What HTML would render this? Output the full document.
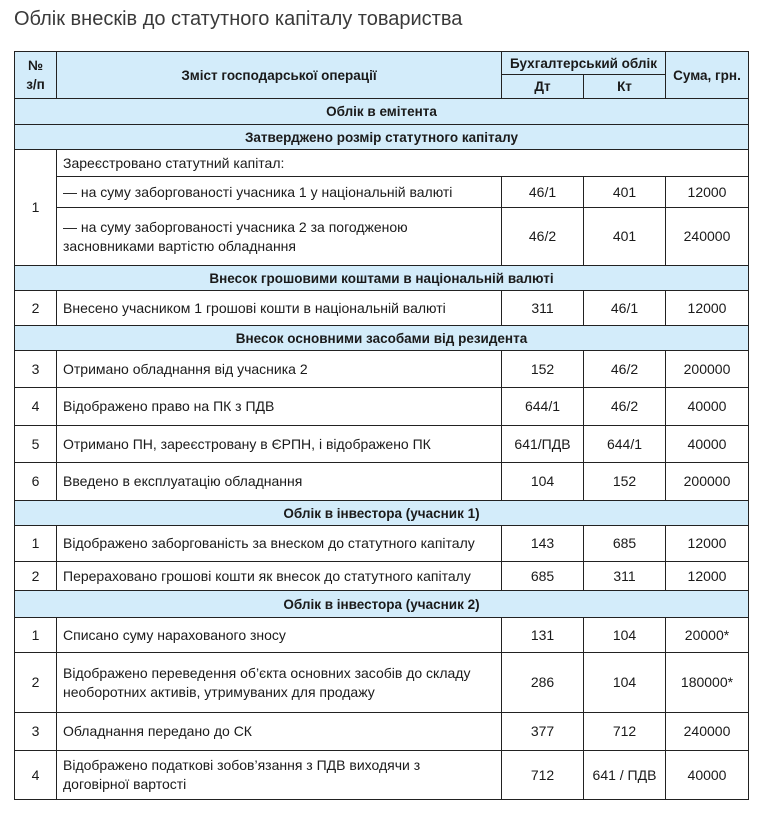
<!DOCTYPE html>
<html><head><meta charset="utf-8"><style>
body{margin:0;background:#fff;width:763px;height:813px;overflow:hidden;font-family:"Liberation Sans",sans-serif;color:#1a1a1a}
.t{position:absolute;left:14px;top:8px;font-size:20px;color:#3a3a3a}
table{position:absolute;left:14px;top:51px;border-collapse:collapse;table-layout:fixed;width:734px;font-size:14px}
td{border:1px solid #222;padding:0 6px;text-align:center;line-height:19px;overflow:hidden}
td.l{text-align:left}
.h td,.s td{background:#d3ecfa;font-weight:bold;font-size:13.5px}
.s td{text-align:center}
</style></head><body>
<div class="t">Облік внесків до статутного капіталу товариства</div>
<table>
<colgroup><col style="width:42px"><col style="width:445px"><col style="width:82px"><col style="width:82px"><col style="width:83px"></colgroup>
<tr class="h" style="height:23px"><td rowspan="2">№<br>з/п</td><td rowspan="2">Зміст господарської операції</td><td colspan="2">Бухгалтерський облік</td><td rowspan="2">Сума, грн.</td></tr>
<tr class="h" style="height:24px"><td>Дт</td><td>Кт</td></tr>
<tr class="s" style="height:26px"><td colspan="5">Облік в емітента</td></tr>
<tr class="s" style="height:25px"><td colspan="5">Затверджено розмір статутного капіталу</td></tr>
<tr style="height:27px"><td rowspan="3">1</td><td class="l" colspan="4">Зареєстровано статутний капітал:</td></tr>
<tr style="height:31px"><td class="l">— на суму заборгованості учасника 1 у національній валюті</td><td>46/1</td><td>401</td><td>12000</td></tr>
<tr style="height:58px"><td class="l">— на суму заборгованості учасника 2 за погодженою<br>засновниками вартістю обладнання</td><td>46/2</td><td>401</td><td>240000</td></tr>
<tr class="s" style="height:25px"><td colspan="5">Внесок грошовими коштами в національній валюті</td></tr>
<tr style="height:35px"><td>2</td><td class="l">Внесено учасником 1 грошові кошти в національній валюті</td><td>311</td><td>46/1</td><td>12000</td></tr>
<tr class="s" style="height:25px"><td colspan="5">Внесок основними засобами від резидента</td></tr>
<tr style="height:37px"><td>3</td><td class="l">Отримано обладнання від учасника 2</td><td>152</td><td>46/2</td><td>200000</td></tr>
<tr style="height:38px"><td>4</td><td class="l">Відображено право на ПК з ПДВ</td><td>644/1</td><td>46/2</td><td>40000</td></tr>
<tr style="height:37px"><td>5</td><td class="l">Отримано ПН, зареєстровану в ЄРПН, і відображено ПК</td><td>641/ПДВ</td><td>644/1</td><td>40000</td></tr>
<tr style="height:38px"><td>6</td><td class="l">Введено в експлуатацію обладнання</td><td>104</td><td>152</td><td>200000</td></tr>
<tr class="s" style="height:25px"><td colspan="5">Облік в інвестора (учасник 1)</td></tr>
<tr style="height:36px"><td>1</td><td class="l">Відображено заборгованість за внеском до статутного капіталу</td><td>143</td><td>685</td><td>12000</td></tr>
<tr style="height:29px"><td>2</td><td class="l">Перераховано грошові кошти як внесок до статутного капіталу</td><td>685</td><td>311</td><td>12000</td></tr>
<tr class="s" style="height:27px"><td colspan="5">Облік в інвестора (учасник 2)</td></tr>
<tr style="height:35px"><td>1</td><td class="l">Списано суму нарахованого зносу</td><td>131</td><td>104</td><td>20000*</td></tr>
<tr style="height:60px"><td>2</td><td class="l">Відображено переведення об’єкта основних засобів до складу<br>необоротних активів, утримуваних для продажу</td><td>286</td><td>104</td><td>180000*</td></tr>
<tr style="height:38px"><td>3</td><td class="l">Обладнання передано до СК</td><td>377</td><td>712</td><td>240000</td></tr>
<tr style="height:49px"><td>4</td><td class="l">Відображено податкові зобов’язання з ПДВ виходячи з<br>договірної вартості</td><td>712</td><td>641 / ПДВ</td><td>40000</td></tr>
</table>
</body></html>
